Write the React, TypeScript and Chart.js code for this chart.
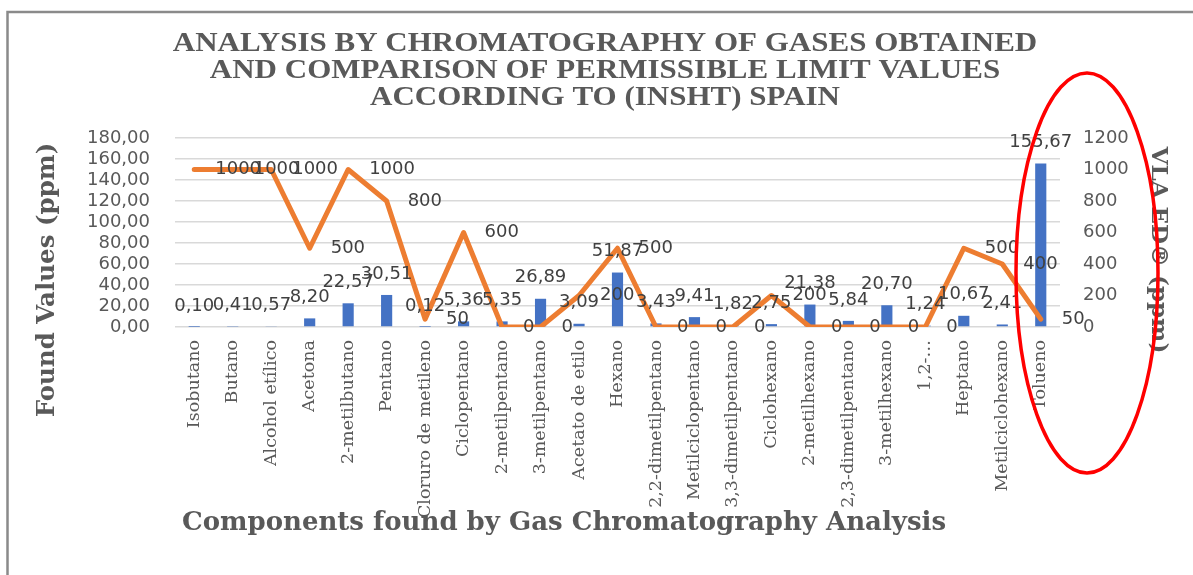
import React, { useEffect, useRef } from "react";
import { Chart, registerables } from "chart.js";

Chart.register(...registerables);

const categories = [
  "Isobutano",
  "Butano",
  "Alcohol etílico",
  "Acetona",
  "2-metilbutano",
  "Pentano",
  "Cloruro de metileno",
  "Ciclopentano",
  "2-metilpentano",
  "3-metilpentano",
  "Acetato de etilo",
  "Hexano",
  "2,2-dimetilpentano",
  "Metilciclopentano",
  "3,3-dimetilpentano",
  "Ciclohexano",
  "2-metilhexano",
  "2,3-dimetilpentano",
  "3-metilhexano",
  "1,2-…",
  "Heptano",
  "Metilciclohexano",
  "Tolueno",
];

const foundValues = [
  0.1, 0.41, 0.57, 8.2, 22.57, 30.51, 0.12, 5.36, 5.35, 26.89, 3.09, 51.87,
  3.43, 9.41, 1.82, 2.75, 21.38, 5.84, 20.7, 1.24, 10.67, 2.41, 155.67,
];

const vlaValues = [
  1000, 1000, 1000, 500, 1000, 800, 50, 600, 0, 0, 200, 500, 0, 0, 0, 200, 0,
  0, 0, 0, 500, 400, 50,
];

const leftAxis = { min: 0, max: 180, step: 20 };
const rightAxis = { min: 0, max: 1200, step: 200 };

const titleLines = [
  "ANALYSIS BY CHROMATOGRAPHY OF GASES OBTAINED",
  "AND COMPARISON OF PERMISSIBLE LIMIT VALUES",
  "ACCORDING TO (INSHT) SPAIN",
];
const leftTitle = "Found Values (ppm)";
const rightTitle = "VLA ED® (ppm)";
const bottomTitle = "Components found by Gas Chromatography Analysis";

const formatComma = (v: number) => v.toFixed(2).replace(".", ",");

const overlayPlugin = {
  id: "overlay",
  beforeDraw(chart: any) {
    const ctx = chart.ctx;
    ctx.save();
    ctx.fillStyle = "#ffffff";
    ctx.fillRect(0, 0, chart.width, chart.height);
    ctx.restore();
  },
  afterDatasetsDraw(chart: any) {
    const ctx = chart.ctx;
    ctx.save();
    ctx.font = '18px "DejaVu Sans"';
    ctx.fillStyle = "#404040";
    ctx.textBaseline = "middle";
    const barMeta = chart.getDatasetMeta(1);
    ctx.textAlign = "center";
    barMeta.data.forEach((el: any, i: number) => {
      ctx.fillText(formatComma(foundValues[i]), el.x, el.y - 21);
    });
    const lineMeta = chart.getDatasetMeta(0);
    ctx.textAlign = "left";
    lineMeta.data.forEach((el: any, i: number) => {
      ctx.fillText(String(vlaValues[i]), el.x + 21, el.y);
    });
    ctx.restore();
  },
  afterDraw(chart: any) {
    const ctx = chart.ctx;
    const area = chart.chartArea;
    ctx.save();
    // frame
    ctx.strokeStyle = "#8a8a8a";
    ctx.lineWidth = 2.5;
    ctx.beginPath();
    ctx.moveTo(7.5, chart.height);
    ctx.lineTo(7.5, 12);
    ctx.lineTo(chart.width, 12);
    ctx.stroke();

    ctx.fillStyle = "#595959";
    ctx.textAlign = "center";
    ctx.textBaseline = "middle";
    // main title (slightly condensed vertically)
    ctx.font = 'bold 31px "Liberation Serif"';
    titleLines.forEach((line, i) => {
      ctx.save();
      ctx.translate(605, 44 + i * 27);
      ctx.scale(1, 0.9);
      ctx.fillText(line, 0, 0);
      ctx.restore();
    });
    // axis titles
    ctx.font = 'bold 26px "DejaVu Serif"';
    ctx.fillText(bottomTitle, 564, 523);
    ctx.font = 'bold 24.5px "DejaVu Serif"';
    ctx.save();
    ctx.translate(48, 280);
    ctx.rotate(-Math.PI / 2);
    ctx.fillText(leftTitle, 0, 0);
    ctx.restore();
    ctx.font = 'bold 23px "DejaVu Serif"';
    ctx.save();
    ctx.translate(1158, 250);
    ctx.rotate(Math.PI / 2);
    ctx.fillText(rightTitle, 0, 0);
    ctx.restore();

    // red annotation ellipse
    ctx.strokeStyle = "#ff0000";
    ctx.lineWidth = 3.5;
    ctx.beginPath();
    ctx.ellipse(area.right + 27, 273, 71, 200, 0, 0, Math.PI * 2);
    ctx.stroke();
    ctx.restore();
  },
};

export default function App() {
  const ref = useRef<HTMLCanvasElement | null>(null);

  useEffect(() => {
    if (!ref.current) return;
    const chart = new Chart(ref.current, {
      type: "bar",
      data: {
        labels: categories,
        datasets: [
          {
            type: "line",
            label: "VLA-ED",
            data: vlaValues,
            yAxisID: "y1",
            borderColor: "#ED7D31",
            backgroundColor: "#ED7D31",
            borderWidth: 5,
            pointRadius: 0,
            tension: 0,
            borderJoinStyle: "round",
            borderCapStyle: "round",
            order: 0,
          } as any,
          {
            type: "bar",
            label: "Found Values",
            data: foundValues,
            yAxisID: "y",
            backgroundColor: "#4472C4",
            barPercentage: 0.29,
            categoryPercentage: 1,
            order: 1,
          },
        ],
      },
      options: {
        responsive: false,
        animation: false,
        layout: { padding: { top: 138, left: 0, right: 0, bottom: 0 } },
        plugins: {
          legend: { display: false },
          title: { display: false },
          tooltip: { enabled: false },
        },
        scales: {
          x: {
            grid: { display: false, drawTicks: false },
            border: { display: false },
            ticks: {
              autoSkip: false,
              minRotation: 90,
              maxRotation: 90,
              padding: 13,
              color: "#595959",
              font: { family: "DejaVu Serif", size: 17.5 },
            },
            afterFit: (scale: any) => {
              scale.height = 248;
            },
          },
          y: {
            position: "left",
            min: leftAxis.min,
            max: leftAxis.max,
            grid: { color: "#D9D9D9", lineWidth: 1.5, drawTicks: false },
            border: { display: false },
            ticks: {
              autoSkip: false,
              stepSize: leftAxis.step,
              padding: 25,
              color: "#595959",
              font: { family: "DejaVu Sans", size: 18 },
              callback: (v: any) => formatComma(Number(v)),
            },
            afterFit: (scale: any) => {
              scale.width = 175;
            },
          },
          y1: {
            position: "right",
            min: rightAxis.min,
            max: rightAxis.max,
            grid: { display: false, drawTicks: false },
            border: { display: false },
            ticks: {
              autoSkip: false,
              stepSize: rightAxis.step,
              padding: 23,
              color: "#595959",
              font: { family: "DejaVu Sans", size: 18 },
              callback: (v: any) => String(v),
            },
            afterFit: (scale: any) => {
              scale.width = 133;
            },
          },
        },
      },
      plugins: [overlayPlugin],
    });
    return () => chart.destroy();
  }, []);

  return (
    <div style={{ position: "absolute", left: 0, top: 0, width: 1193, height: 575 }}>
      <canvas ref={ref} width={1193} height={575} />
    </div>
  );
}
